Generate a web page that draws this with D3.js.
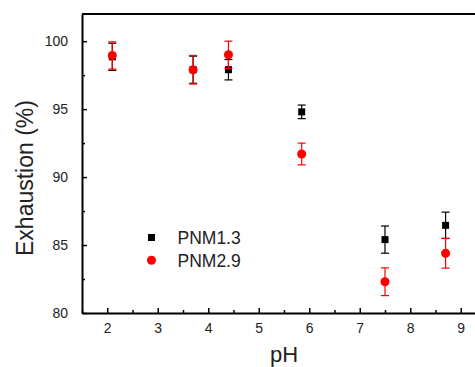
<!DOCTYPE html>
<html>
<head>
<meta charset="utf-8">
<script src="https://cdn.jsdelivr.net/npm/d3@7"></script>
<style>
  body { margin: 0; background: #fff; }
  text { font-family: Arial, "Liberation Sans", sans-serif; fill: #222; }
</style>
</head>
<body>
<div id="chart"></div>
<script>
// data
const seriesNames = ["PNM1.3", "PNM2.9"];
const phValues = [2.1, 3.7, 4.4, 5.85, 7.5, 8.7];
const pnm13 = [98.85, 97.9, 97.9, 94.8, 85.4, 86.45];
const pnm13Err = [1.0, 1.0, 0.75, 0.5, 1.0, 0.97];
const pnm29 = [98.95, 97.9, 99.0, 91.7, 82.3, 84.4];
const pnm29Err = [1.0, 1.05, 1.0, 0.8, 1.02, 1.1];
const xTicks = [2, 3, 4, 5, 6, 7, 8, 9];
const yTicks = [80, 85, 90, 95, 100];

const margin = { top: 14, left: 82 },
  width = 404,
  height = 299;

const svg = d3.select("#chart")
  .append("svg")
  .attr("width", 475)
  .attr("height", 367)
  .append("g")
  .attr("transform", `translate(${margin.left},${margin.top})`);

const x = d3.scaleLinear().domain([1.5, 9.5]).range([0, width]);
const y = d3.scaleLinear().domain([80, 102]).range([height, 0]);

// minor ticks
const xMinor = d3.range(1.5, 9.6, 0.5).filter(v => !xTicks.includes(v));
const yMinor = [82.5, 87.5, 92.5, 97.5];

svg.append("g")
  .attr("transform", `translate(0,${height})`)
  .call(d3.axisBottom(x).tickValues(xMinor).tickSizeInner(-3).tickSizeOuter(0).tickFormat(""))
  .call(g => g.select(".domain").remove())
  .selectAll("line").attr("stroke-width", 1.5);

svg.append("g")
  .call(d3.axisLeft(y).tickValues(yMinor).tickSizeInner(-3).tickSizeOuter(0).tickFormat(""))
  .call(g => g.select(".domain").remove())
  .selectAll("line").attr("stroke-width", 1.5);

// major axes
const xAxis = svg.append("g")
  .attr("transform", `translate(0,${height})`)
  .call(d3.axisBottom(x).tickValues(xTicks).tickSizeInner(-5).tickSizeOuter(0).tickPadding(10));
xAxis.select(".domain").attr("stroke-width", 2);
xAxis.selectAll("line").attr("stroke-width", 1.5);
xAxis.selectAll("text").style("font-size", "14px");

const yAxis = svg.append("g")
  .call(d3.axisLeft(y).tickValues(yTicks).tickSizeInner(-5).tickSizeOuter(0).tickPadding(14));
yAxis.select(".domain").attr("stroke-width", 2);
yAxis.selectAll("line").attr("stroke-width", 1.5);
yAxis.selectAll("text").style("font-size", "14px");

// top frame
svg.append("line")
  .attr("x1", 0).attr("x2", width)
  .attr("y1", 0).attr("y2", 0)
  .attr("stroke", "#000")
  .attr("stroke-width", 2);

const colors = ["#000", "#f00"];
const series = [
  phValues.map((p, i) => ({ ph: p, v: pnm13[i], e: pnm13Err[i] })),
  phValues.map((p, i) => ({ ph: p, v: pnm29[i], e: pnm29Err[i] }))
];

series.forEach((data, s) => {
  const g = svg.append("g");
  const bars = g.selectAll("g").data(data).join("g");
  bars.append("line")
    .attr("x1", d => x(d.ph)).attr("x2", d => x(d.ph))
    .attr("y1", d => y(d.v - d.e)).attr("y2", d => y(d.v + d.e))
    .attr("stroke", colors[s]).attr("stroke-width", 1.2);
  [-1, 1].forEach(sign => {
    bars.append("line")
      .attr("x1", d => x(d.ph) - 4).attr("x2", d => x(d.ph) + 4)
      .attr("y1", d => y(d.v + sign * d.e)).attr("y2", d => y(d.v + sign * d.e))
      .attr("stroke", colors[s]).attr("stroke-width", 1.2);
  });
  if (s === 0) {
    bars.append("rect")
      .attr("x", d => x(d.ph) - 3.5).attr("y", d => y(d.v) - 3.5)
      .attr("width", 7).attr("height", 7)
      .attr("fill", colors[s]);
  } else {
    bars.append("circle")
      .attr("cx", d => x(d.ph)).attr("cy", d => y(d.v))
      .attr("r", 4.5)
      .attr("fill", colors[s]);
  }
});

// legend
const legend = svg.selectAll(".legend")
  .data(seriesNames)
  .enter().append("g")
  .attr("transform", (d, i) => `translate(${151.5 - margin.left},${237.5 - margin.top + i * 22.7})`);

legend.each(function (d, i) {
  const g = d3.select(this);
  if (i === 0) {
    g.append("rect").attr("x", -3.5).attr("y", -3.5).attr("width", 7).attr("height", 7).attr("fill", colors[0]);
  } else {
    g.append("circle").attr("r", 4.5).attr("fill", colors[1]);
  }
  g.append("text")
    .attr("x", 26)
    .attr("dy", "0.36em")
    .style("font-size", "17.5px")
    .text(d);
});

// axis titles
svg.append("text")
  .attr("text-anchor", "middle")
  .attr("transform", `translate(${33 - margin.left},${178 - margin.top})rotate(-90)`)
  .style("font-size", "23px")
  .text("Exhaustion (%)");

svg.append("text")
  .attr("text-anchor", "middle")
  .attr("x", 284 - margin.left)
  .attr("y", 362 - margin.top)
  .style("font-size", "22px")
  .text("pH");
</script>
</body>
</html>
